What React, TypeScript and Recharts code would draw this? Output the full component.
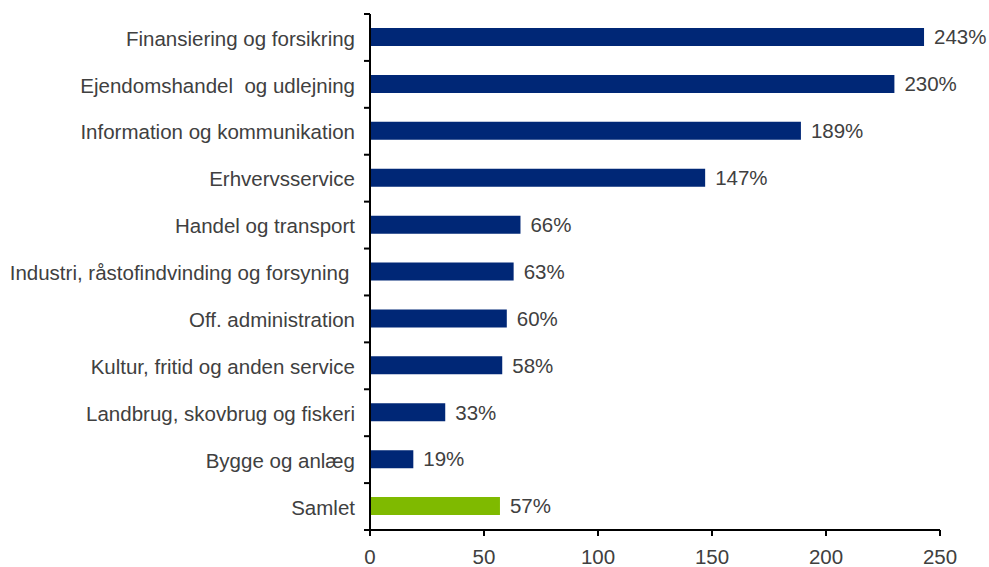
import { Bar, BarChart, Cell, LabelList, XAxis, YAxis } from "recharts";

const CATEGORIES = [
  "Finansiering og forsikring",
  "Ejendomshandel  og udlejning",
  "Information og kommunikation",
  "Erhvervsservice",
  "Handel og transport",
  "Industri, råstofindvinding og forsyning ",
  "Off. administration",
  "Kultur, fritid og anden service",
  "Landbrug, skovbrug og fiskeri",
  "Bygge og anlæg",
  "Samlet",
];
const VALUES = [243, 230, 189, 147, 66, 63, 60, 58, 33, 19, 57];
const X_TICKS = [0, 50, 100, 150, 200, 250];

const NAVY = "#002776";
const GREEN = "#7fba00";
const TEXT = "#404040";
const FONT = '"Liberation Sans", Arial, sans-serif';
const FONT_SIZE = 20.5;

const WIDTH = 989;
const HEIGHT = 567;
const AXIS_W = 370;
const TOP = 14;
const X_AXIS_H = 37;
const PLOT_H = HEIGHT - TOP - X_AXIS_H;
const BAND = PLOT_H / CATEGORIES.length;

const data = CATEGORIES.map((name, i) => ({ name, value: VALUES[i] }));

function CategoryTick(props: any) {
  const { y, payload, index } = props;
  const upper = y - BAND / 2;
  const lower = y + BAND / 2;
  return (
    <g>
      <line x1={AXIS_W - 6} x2={AXIS_W} y1={upper} y2={upper} stroke="#000" strokeWidth={2} />
      {index === CATEGORIES.length - 1 && (
        <line x1={AXIS_W - 6} x2={AXIS_W} y1={lower} y2={lower} stroke="#000" strokeWidth={2} />
      )}
      <text
        x={AXIS_W - 15}
        y={y}
        dy="0.4em"
        textAnchor="end"
        fill={TEXT}
        fontSize={FONT_SIZE}
        fontFamily={FONT}
        style={{ whiteSpace: "pre" }}
      >
        {payload.value}
      </text>
    </g>
  );
}

export default function App() {
  return (
    <div style={{ position: "absolute", left: 0, top: 0, width: WIDTH, height: HEIGHT, fontFamily: FONT }}>
      <BarChart
        width={WIDTH}
        height={HEIGHT}
        data={data}
        layout="vertical"
        margin={{ top: TOP, right: 49, bottom: 0, left: 0 }}
        barCategoryGap={0}
      >
        <XAxis
          type="number"
          domain={[0, 250]}
          ticks={X_TICKS}
          height={X_AXIS_H}
          axisLine={{ stroke: "#000", strokeWidth: 2 }}
          tickLine={{ stroke: "#000", strokeWidth: 2 }}
          tickSize={6}
          tickMargin={13}
          tick={{ fill: TEXT, fontSize: FONT_SIZE, fontFamily: FONT }}
        />
        <YAxis
          type="category"
          dataKey="name"
          width={AXIS_W}
          axisLine={{ stroke: "#000", strokeWidth: 2 }}
          tickLine={false}
          tick={<CategoryTick />}
          interval={0}
        />
        <Bar dataKey="value" barSize={18} isAnimationActive={false}>
          {data.map((d, i) => (
            <Cell key={d.name} fill={i === data.length - 1 ? GREEN : NAVY} />
          ))}
          <LabelList
            dataKey="value"
            position="right"
            offset={10}
            formatter={(v: any) => `${v}%`}
            fill={TEXT}
            fontSize={FONT_SIZE}
            fontFamily={FONT}
          />
        </Bar>
      </BarChart>
    </div>
  );
}
